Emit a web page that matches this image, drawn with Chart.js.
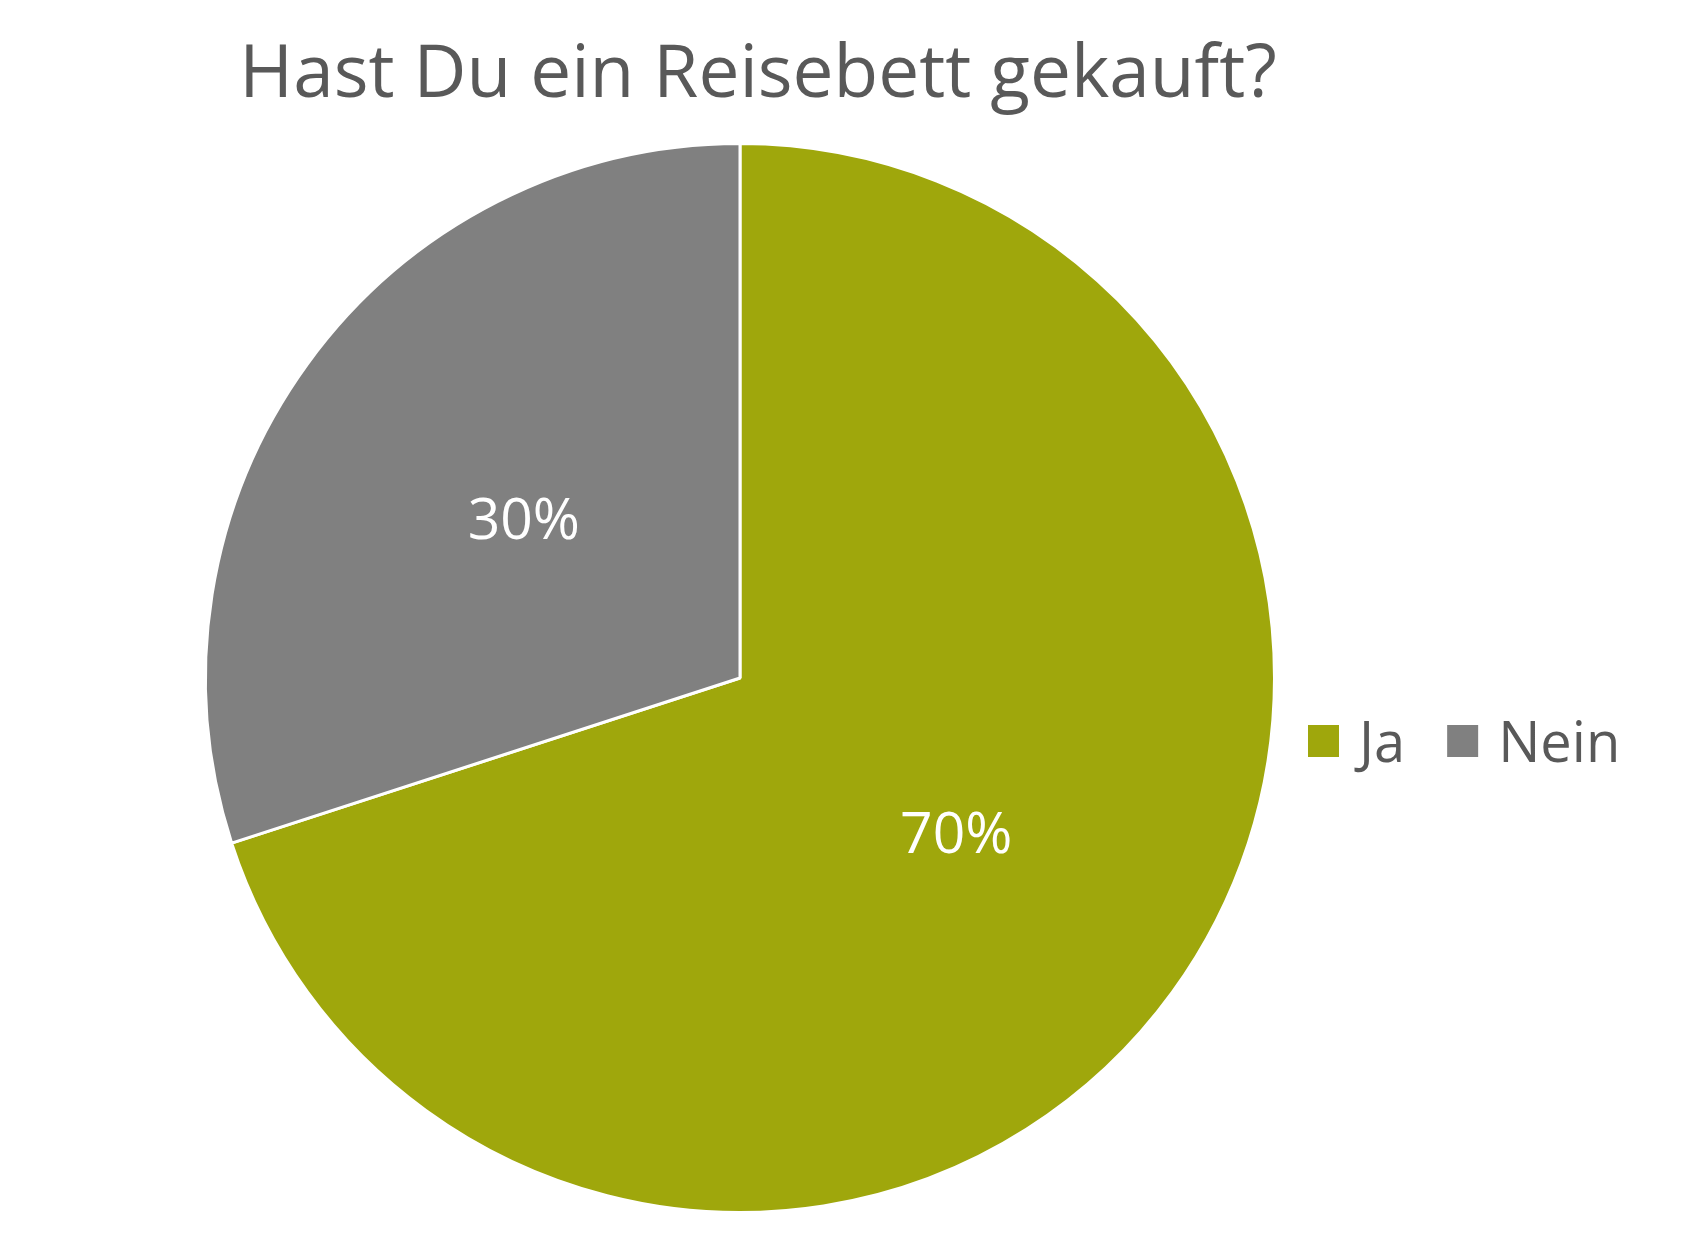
<!DOCTYPE html>
<html>
  <head>
    <title>Reisebett</title>
    <script src="https://cdn.jsdelivr.net/npm/chart.js"></script>
    <style>
      html, body {
        margin: 0;
        padding: 0;
        background: #ffffff;
      }
      .chart-box {
        width: 1693px;
        height: 1235px;
      }
    </style>
  </head>
  <body>
    <div class="chart-box">
      <canvas id="pieChart" width="1693" height="1235"></canvas>
    </div>
    <script>
      var chartTitle = 'Hast Du ein Reisebett gekauft?';
      var labels = ['Ja', 'Nein'];
      var values = [70, 30];
      var colors = ['#9FA70C', '#808080'];
      var textColor = '#595959';
      var fontName = '"Open Sans", "Noto Sans", sans-serif';

      // title, legend and percent labels drawn by hand
      var extraDraw = {
        id: 'extraDraw',
        afterDatasetsDraw: function(chart) {
          var ctx = chart.ctx;
          var meta = chart.getDatasetMeta(0);
          ctx.save();
          // percent labels in the middle of each slice
          ctx.fillStyle = '#ffffff';
          ctx.font = '57px ' + fontName;
          ctx.textAlign = 'center';
          ctx.textBaseline = 'middle';
          meta.data.forEach(function(arc, i) {
            var p = arc.tooltipPosition();
            ctx.fillText(values[i] + '%', p.x, p.y + 2);
          });
          // title
          ctx.fillStyle = textColor;
          ctx.font = '73px ' + fontName;
          ctx.textBaseline = 'alphabetic';
          ctx.fillText(chartTitle, 758, 97);
          // legend
          ctx.font = '56px ' + fontName;
          ctx.textAlign = 'left';
          var x = 1308;
          labels.forEach(function(lab, i) {
            ctx.fillStyle = colors[i];
            ctx.fillRect(x, 725, 31, 32);
            ctx.fillStyle = textColor;
            ctx.fillText(lab, x + 51, 762);
            x += 51 + ctx.measureText(lab).width + 42;
          });
          ctx.restore();
        }
      };

      new Chart(document.getElementById('pieChart').getContext('2d'), {
        type: 'pie',
        data: {
          labels: labels,
          datasets: [{
            data: values,
            backgroundColor: colors,
            borderColor: '#ffffff',
            borderWidth: 3
          }]
        },
        options: {
          responsive: false,
          animation: false,
          layout: {
            padding: { top: 142, bottom: 21, left: 204, right: 417 }
          },
          plugins: {
            legend: { display: false },
            title: { display: false },
            tooltip: { enabled: false }
          }
        },
        plugins: [extraDraw]
      });
    </script>
  </body>
</html>
